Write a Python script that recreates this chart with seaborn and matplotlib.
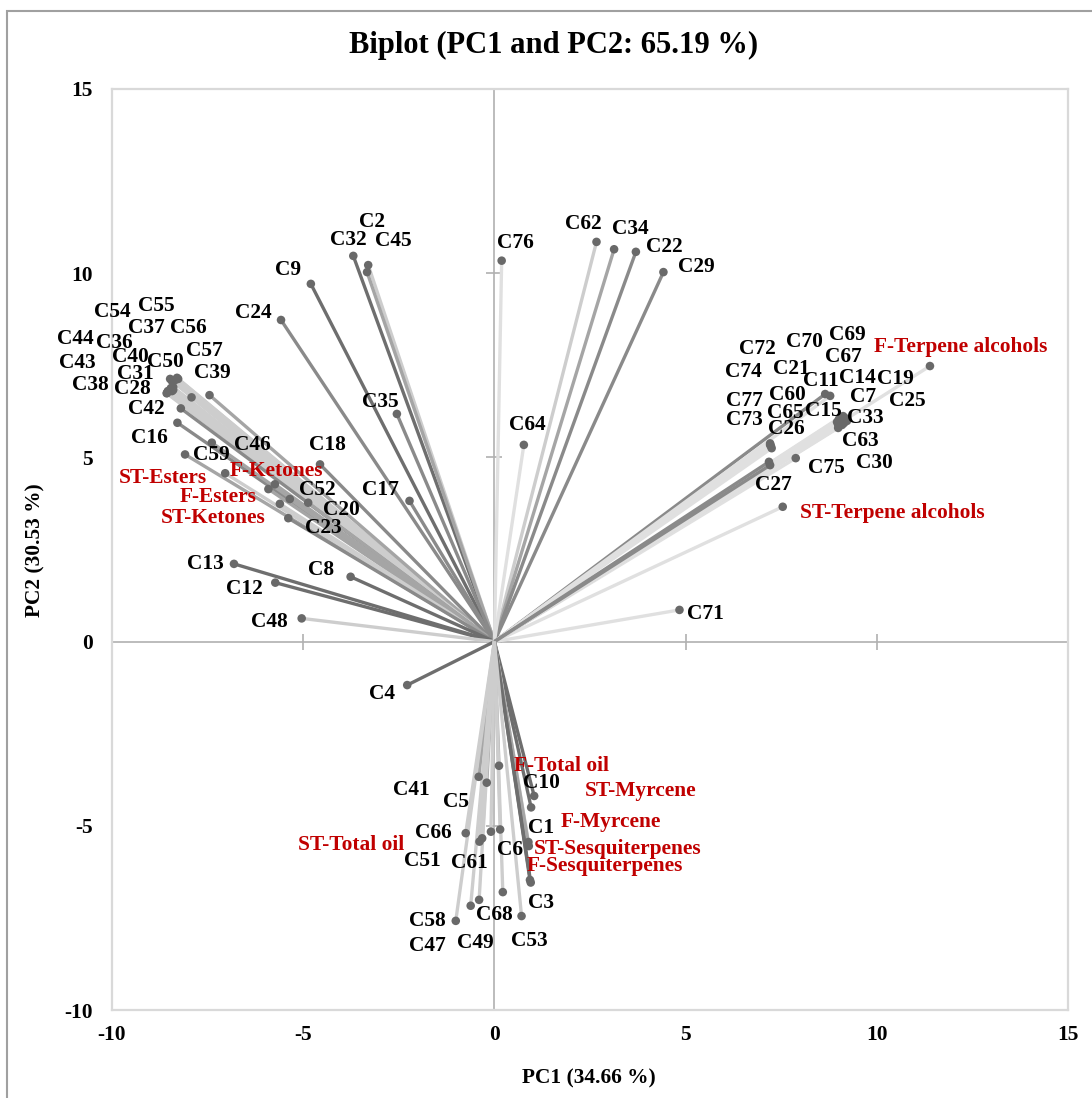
import numpy as np
import pandas as pd
import seaborn as sns
import matplotlib.pyplot as plt
from matplotlib.patches import Rectangle

# loadings / scores
labels = [
    # upper left
    "C54", "C55", "C37", "C56", "C44", "C36", "C57", "C40", "C50", "C43",
    "C31", "C39", "C38", "C28", "C42", "C16", "C59", "C46", "C18",
    "ST-Esters", "F-Ketones", "F-Esters", "C52", "ST-Ketones", "C20", "C23",
    "C24", "C9", "C32", "C2", "C45", "C35", "C17", "C13", "C12", "C8", "C48", "C4",
    # upper right
    "C76", "C62", "C34", "C22", "C29", "C64", "C71",
    "F-Terpene alcohols", "ST-Terpene alcohols", "C75", "C11", "C21",
    "C7", "C14", "C19", "C25", "C33", "C63", "C30", "C15", "C69", "C67",
    "C70", "C60", "C65", "C26", "C73", "C72", "C74", "C77", "C27",
    # bottom
    "F-Total oil", "C41", "C5", "C10", "ST-Myrcene", "C66", "C51", "C61",
    "ST-Total oil", "C6", "C1", "F-Myrcene", "ST-Sesquiterpenes", "C3",
    "F-Sesquiterpenes", "C68", "C49", "C47", "C58", "C53",
]
pc1 = [
    -8.43, -8.30, -8.35, -7.92, -8.56, -8.46, -8.27, -8.48, -8.40, -8.54,
    -8.43, -7.45, -8.57, -8.40, -8.20, -8.29, -7.39, -5.74, -4.56,
    -8.09, -7.04, -5.91, -5.35, -5.61, -4.87, -5.39,
    -5.58, -4.80, -3.69, -3.30, -3.33, -2.55, -2.22, -6.81, -5.73, -3.76, -5.04, -2.28,
    0.19, 2.67, 3.13, 3.70, 4.42, 0.77, 4.84,
    11.39, 7.54, 7.88, 8.65, 8.78,
    9.17, 9.12, 9.19, 9.22, 9.14, 8.99, 9.09, 9.01, 9.06, 9.12,
    9.04, 8.96, 8.99, 7.21, 7.25, 7.21, 7.23, 7.18, 7.21,
    0.12, -0.41, -0.20, 1.04, 0.96, -0.75, -0.39, -0.32,
    -0.09, 0.15, 0.87, 0.89, 0.90, 0.95,
    0.93, 0.22, -0.40, -0.62, -1.01, 0.71,
]
pc2 = [
    7.07, 7.16, 7.10, 6.63, 6.75, 6.88, 7.13, 7.13, 6.91, 6.80,
    6.80, 6.69, 6.74, 6.83, 6.33, 5.94, 5.40, 4.27, 4.81,
    5.08, 4.57, 4.14, 3.87, 3.74, 3.77, 3.35,
    8.73, 9.71, 10.47, 10.22, 10.03, 6.18, 3.82, 2.11, 1.60, 1.76, 0.63, -1.18,
    10.34, 10.85, 10.65, 10.58, 10.03, 5.34, 0.86,
    7.48, 3.66, 4.98, 6.72, 6.67,
    6.07, 6.12, 6.02, 5.99, 5.93, 5.80, 5.88, 6.04, 6.10, 6.04,
    6.02, 5.96, 5.88, 5.38, 5.25, 5.34, 5.31, 4.88, 4.79,
    -3.37, -3.67, -3.83, -4.19, -4.50, -5.20, -5.43, -5.34,
    -5.16, -5.10, -5.49, -5.44, -5.55, -6.54,
    -6.47, -6.80, -7.01, -7.17, -7.58, -7.45,
]

title = "Biplot (PC1 and PC2: 65.19 %)"
xlabel = "PC1 (34.66 %)"
ylabel = "PC2 (30.53 %)"
ticks = [-10, -5, 0, 5, 10, 15]

# where each label sits relative to its point (pixels, dy up)
offsets = {
    "C54": (-60, 69), "C55": (-21, 72), "C37": (-29, 52), "C56": (-3, 69),
    "C44": (-92, 54), "C36": (-57, 45), "C57": (26, 28), "C40": (-40, 22),
    "C50": (-8, 25), "C43": (-91, 28), "C31": (-37, 17), "C39": (3, 22),
    "C38": (-76, 8), "C28": (-41, 1), "C42": (-35, -1), "C16": (-28, -15),
    "C59": (0, -12), "C46": (-23, 39), "C18": (7, 19),
    "ST-Esters": (-22, -24), "F-Ketones": (51, 2), "F-Esters": (-50, -8),
    "C52": (27, 9), "ST-Ketones": (-67, -14), "C20": (33, -7), "C23": (35, -10),
    "C24": (-28, 7), "C9": (-23, 14), "C32": (-5, 16), "C2": (4, 43),
    "C45": (26, 31), "C35": (-17, 12), "C17": (-29, 11), "C13": (-29, 0),
    "C12": (-31, -6), "C8": (-30, 7), "C48": (-32, -4), "C4": (-25, -9),
    "C76": (14, 18), "C62": (-13, 18), "C34": (16, 20), "C22": (28, 5),
    "C29": (33, 5), "C64": (3, 20), "C71": (26, -4),
    "F-Terpene alcohols": (31, 19), "ST-Terpene alcohols": (110, -6),
    "C75": (31, -10), "C11": (-4, 13), "C21": (-39, 27),
    "C7": (18, 21), "C14": (14, 38), "C19": (50, 41), "C25": (60, 20),
    "C33": (21, 5), "C63": (22, -13), "C30": (32, -38), "C15": (-16, 8),
    "C69": (7, 82), "C67": (0, 62), "C70": (-36, 78), "C60": (-50, 27),
    "C65": (-53, 12), "C26": (16, 14), "C73": (-27, 28), "C72": (-13, 96),
    "C74": (-28, 74), "C77": (-25, 61), "C27": (3, -20),
    "F-Total oil": (63, 0), "C41": (-67, -13), "C5": (-31, -19),
    "C10": (7, 13), "ST-Myrcene": (110, 16), "C66": (-32, 0),
    "C51": (-57, -19), "C61": (-13, -25), "ST-Total oil": (-140, -13),
    "C6": (10, -21), "C1": (13, 16), "F-Myrcene": (82, 20),
    "ST-Sesquiterpenes": (89, -3), "C3": (10, -20), "F-Sesquiterpenes": (75, 14),
    "C68": (-8, -23), "C49": (-4, -43), "C47": (-43, -40), "C58": (-28, 0),
    "C53": (8, -25),
}

dark = "#6e6e6e"
middark = "#8a8a8a"
mid = "#a5a5a5"
light = "#cdcdcd"
vlight = "#e0e0e0"
line_grey = {}
for k in ["C32", "C8", "C13", "C12", "C4", "C10", "C3", "C9", "ST-Myrcene",
          "F-Sesquiterpenes"]:
    line_grey[k] = dark
for k in ["C24", "C22", "C17", "C18", "C29", "C35", "C16", "C23", "C11",
          "C77", "C27", "C42"]:
    line_grey[k] = middark
for k in ["C34", "C45", "C52", "C20", "C46", "F-Esters", "C33", "C7", "C39",
          "C41", "C5", "C1", "ST-Sesquiterpenes", "F-Total oil", "ST-Esters",
          "C59"]:
    line_grey[k] = mid
for k in ["C76", "C64", "C71", "C14", "C19", "C25", "C69", "C67", "C70",
          "C60", "C65", "C63", "C30", "C15", "C26", "C73", "C72", "C74",
          "F-Terpene alcohols", "ST-Terpene alcohols", "C75", "C21"]:
    line_grey[k] = vlight


def main():
    sns.set_theme(style="white")
    plt.rcParams['font.family'] = ['Liberation Serif', 'DejaVu Serif']
    plt.rcParams['font.weight'] = 'bold'
    plt.rcParams['axes.unicode_minus'] = False
    for key in ['text.color', 'axes.labelcolor', 'xtick.color', 'ytick.color']:
        plt.rcParams[key] = 'black'

    df = pd.DataFrame({"label": labels, "PC1": pc1, "PC2": pc2})
    df["is_var"] = df["label"].str.contains("-")

    fig = plt.figure(figsize=(10.92, 10.98), dpi=100)
    ax = fig.add_axes([112 / 1092, 88 / 1098, 956 / 1092, 921 / 1098])

    # axes through origin with cross ticks
    ax.axhline(0, color="#b0b0b0", lw=1.2, zorder=1)
    ax.axvline(0, color="#b0b0b0", lw=1.2, zorder=1)
    ax.plot(np.zeros(len(ticks)), ticks, ls="none", marker="_", ms=12,
            mew=1.2, color="#b0b0b0", zorder=1)
    ax.plot(ticks, np.zeros(len(ticks)), ls="none", marker="|", ms=12,
            mew=1.2, color="#b0b0b0", zorder=1)

    # rays from the origin
    for _, r in df.iterrows():
        ax.plot([0, r.PC1], [0, r.PC2], color=line_grey.get(r.label, light),
                lw=2.4, solid_capstyle="butt", zorder=2)

    sns.scatterplot(data=df, x="PC1", y="PC2", color="#696969", s=38,
                    edgecolor="none", ax=ax, zorder=3)

    for _, r in df.iterrows():
        dx, dy = offsets.get(r.label, (0, 12))
        ax.annotate(r.label, (r.PC1, r.PC2), xytext=(dx, dy),
                    textcoords="offset pixels", ha="center", va="center",
                    fontsize=15.4, fontweight="bold",
                    color="#C00000" if r.is_var else "black", zorder=4)

    ax.set_xlim(-10, 15)
    ax.set_ylim(-10, 15)
    ax.set_xticks(ticks)
    ax.set_yticks(ticks)
    ax.tick_params(length=0, labelsize=15.4, pad=11)
    ax.tick_params(axis="y", pad=14)
    for s in ax.spines.values():
        s.set_color("#d9d9d9")
        s.set_linewidth(1.6)

    ax.set_xlabel(xlabel, fontsize=15.4, fontweight="bold")
    ax.set_ylabel(ylabel, fontsize=15.4, fontweight="bold")
    ax.xaxis.set_label_coords(0.499, -0.063)
    ax.yaxis.set_label_coords(-0.070, 0.4995)

    fig.text(554 / 1092, 1 - 45 / 1098, title, ha="center", va="center",
             fontsize=22, fontweight="bold")

    # chart frame, runs off the right and bottom edge
    fig.patches.append(Rectangle((7 / 1092, -0.2), 1.2, 1.2 - 11 / 1098,
                                 transform=fig.transFigure, fill=False,
                                 edgecolor="#a0a0a0", lw=1.5))

    plt.savefig("out.png", dpi=100)


if __name__ == "__main__":
    main()
